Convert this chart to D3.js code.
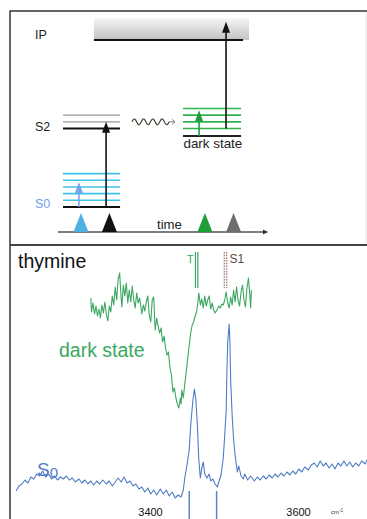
<!DOCTYPE html>
<html>
<head>
<meta charset="utf-8">
<script src="https://cdn.jsdelivr.net/npm/d3@7"></script>
<style>
  html, body { margin: 0; padding: 0; background: #fff; }
  svg { display: block; font-family: "Liberation Sans", Arial, sans-serif; }
</style>
</head>
<body>
<svg id="chart" width="367" height="519"></svg>
<script>
// ---- energy diagram (arbitrary energy units, time units) ----
const s0Base = 0;
const s0Vib = [4, 8, 12, 16, 20];
const s2Base = 47;
const s2Vib = [51, 55];
const darkBase = 42.5;
const darkVib = [47, 51, 55, 59];
const ipLevel = 100;
const ipTop = 113;
const ladderSpan = [0.24, 2.97];
const darkSpan = [5.98, 8.76];
const ipSpan = [1.72, 9.14];
const pulseTimes = [1.1, 2.46, 7.03, 8.4];
const pulseColors = ['#4fb0e2', '#111111', '#1e9e3a', '#6e6e6e'];
const transitionTimes = [1.0, 2.3, 6.75, 8.04];
const transitionFrom = [0, 0, 42.5, 47];
const transitionTo = [15, 51, 58, 111];
const transitionColors = ['#7ba3ec', '#111111', '#1e9e3a', '#111111'];
const wavySpan = [3.54, 5.6];
const wavyLevel = 51;

// ---- IR spectra (wavenumber cm-1, intensity a.u.) ----
const s0Spectrum = [
  [3219, 4.5], [3223, 7], [3227, 8], [3231, 10], [3235, 8.5], [3239, 11.5], [3243, 10.5], [3247, 13],
  [3251, 12], [3255, 14.5], [3259, 11.5], [3263, 13], [3267, 10.5], [3271, 12], [3275, 10], [3279, 11.5],
  [3283, 10.5], [3287, 12], [3291, 10], [3295, 11], [3299, 9], [3304, 10.5], [3308, 8.5], [3312, 10],
  [3316, 8], [3320, 9.5], [3324, 7.5], [3328, 9.5], [3332, 8], [3336, 10], [3341, 8], [3345, 9.5],
  [3349, 7], [3353, 9], [3357, 11], [3361, 9], [3365, 11.5], [3369, 8.5], [3373, 9.5], [3377, 7],
  [3381, 8], [3385, 5.5], [3389, 6.5], [3393, 4], [3397, 6], [3401, 3], [3405, 5], [3409, 2.5],
  [3414, 5.5], [3418, 3], [3422, 5], [3426, 2], [3430, 4], [3434, 1], [3438, 2.5], [3442, 1.5],
  [3445, 5], [3447, 11], [3450, 17.5], [3453, 25], [3455, 37.5], [3458, 50], [3460, 55.5], [3462, 50],
  [3464, 37.5], [3466, 20], [3468, 11], [3470, 16], [3472, 19], [3474, 13], [3477, 11], [3480, 13],
  [3482, 9.5], [3485, 10.5], [3488, 8], [3491, 6.5], [3493, 9], [3496, 12.5], [3499, 21], [3501, 32.5],
  [3503, 45], [3504, 65], [3505, 79], [3507, 88], [3508, 79], [3509, 60], [3511, 42.5], [3513, 30],
  [3515, 22.5], [3518, 14], [3520, 17], [3523, 12], [3526, 10.5], [3528, 13], [3532, 10], [3536, 12],
  [3541, 9.5], [3545, 11.5], [3549, 10], [3553, 12], [3557, 10.5], [3561, 12.5], [3565, 11], [3569, 13],
  [3573, 11.5], [3577, 13.5], [3581, 12], [3585, 14], [3589, 12.5], [3593, 14.5], [3597, 13], [3601, 15.5],
  [3605, 14], [3609, 16.5], [3614, 15], [3618, 17.5], [3622, 18.5], [3626, 16.5], [3630, 19.5], [3634, 17],
  [3638, 18.5], [3642, 16], [3646, 18], [3650, 15.5], [3654, 18.5], [3658, 17], [3662, 19.5], [3666, 17],
  [3670, 19], [3674, 16.5], [3678, 18.5], [3682, 17], [3686, 19.5], [3691, 18], [3693, 20]
];
const darkSpectrum = [
  [3320, 101], [3321, 94], [3323, 98.5], [3325, 93], [3327, 97], [3329, 92], [3331, 95.5], [3333, 91],
  [3335, 97.5], [3337, 93.5], [3339, 99], [3341, 93], [3343, 89.5], [3345, 97], [3347, 94], [3349, 102],
  [3351, 97.5], [3353, 106.5], [3355, 100], [3357, 110.5], [3359, 113.5], [3361, 101], [3362, 96.5], [3364, 107.5],
  [3366, 102], [3368, 108.5], [3370, 98.5], [3372, 105], [3374, 99], [3376, 107], [3378, 100], [3380, 96],
  [3382, 103.5], [3384, 98.5], [3386, 101], [3389, 93], [3391, 97.5], [3393, 94.5], [3395, 99], [3397, 102],
  [3399, 92.5], [3401, 89], [3403, 100], [3405, 101.5], [3407, 85], [3409, 91], [3411, 87], [3413, 83.5],
  [3415, 86], [3417, 79], [3419, 82], [3421, 76], [3423, 72.5], [3425, 74], [3427, 66], [3429, 62.5],
  [3431, 54], [3433, 56], [3435, 51], [3437, 48], [3439, 46], [3441, 51], [3442, 48], [3443, 55],
  [3445, 51], [3447, 58], [3449, 64], [3451, 71], [3453, 77.5], [3455, 83.5], [3457, 87.5], [3459, 89],
  [3461, 92], [3463, 94], [3465, 100], [3466, 103.5], [3468, 97.5], [3470, 100.5], [3472, 96], [3474, 102],
  [3476, 97], [3478, 100], [3480, 102], [3482, 95.5], [3484, 98.5], [3486, 95], [3488, 93.5], [3491, 95.5],
  [3493, 97], [3495, 96], [3497, 98], [3499, 97.5], [3501, 100], [3503, 104], [3505, 98.5], [3507, 96],
  [3509, 101.5], [3511, 97.5], [3513, 105], [3515, 99], [3517, 106.5], [3519, 100], [3521, 97], [3523, 104],
  [3525, 107.5], [3527, 100], [3529, 96.5], [3531, 106], [3533, 111], [3535, 102], [3536, 96], [3537, 105]
];
const sticks = [3453, 3490];
const stickTop = 4.5;
const tripletMark = 3463;
const s1Mark = 3502;
const markerRange = [124, 106];
const tickValues = [3400, 3600];

const svg = d3.select('#chart');
svg.append('rect').attr('width', 367).attr('height', 519).attr('fill', '#fff');

// ---------- top panel ----------
const tScale = d3.scaleLinear().domain([0, 10]).range([58, 267]);
const eScale = d3.scaleLinear().domain([0, 100]).range([207, 40]);

const defs = svg.append('defs');
const grad = defs.append('linearGradient')
  .attr('id', 'ipgrad').attr('x1', 0).attr('y1', 0).attr('x2', 0).attr('y2', 1);
grad.append('stop').attr('offset', '0%').attr('stop-color', '#f5f5f5');
grad.append('stop').attr('offset', '100%').attr('stop-color', '#c2c2c2');

function arrowHead(sel, x, yTip, color, w, h) {
  sel.append('path')
    .attr('d', `M${x},${yTip} L${x - w / 2},${yTip + h} L${x + w / 2},${yTip + h} Z`)
    .attr('fill', color);
}

const diagram = svg.append('g');

// IP band
diagram.append('rect')
  .attr('x', tScale(ipSpan[0])).attr('y', eScale(ipTop))
  .attr('width', tScale(ipSpan[1]) - tScale(ipSpan[0]))
  .attr('height', eScale(ipLevel) - eScale(ipTop))
  .attr('fill', 'url(#ipgrad)');
diagram.append('line')
  .attr('x1', tScale(ipSpan[0])).attr('x2', tScale(ipSpan[1]) - 6)
  .attr('y1', eScale(ipLevel)).attr('y2', eScale(ipLevel))
  .attr('stroke', '#111').attr('stroke-width', 1.8);

// S0 ladder
diagram.selectAll('.s0v').data(s0Vib).enter().append('line')
  .attr('x1', tScale(ladderSpan[0])).attr('x2', tScale(ladderSpan[1]))
  .attr('y1', d => eScale(d)).attr('y2', d => eScale(d))
  .attr('stroke', '#3cc3ea').attr('stroke-width', 1.6);
diagram.append('line')
  .attr('x1', tScale(ladderSpan[0])).attr('x2', tScale(ladderSpan[1]))
  .attr('y1', eScale(s0Base)).attr('y2', eScale(s0Base))
  .attr('stroke', '#111').attr('stroke-width', 2);

// S2 ladder
diagram.selectAll('.s2v').data(s2Vib).enter().append('line')
  .attr('x1', tScale(ladderSpan[0])).attr('x2', tScale(ladderSpan[1]))
  .attr('y1', d => eScale(d)).attr('y2', d => eScale(d))
  .attr('stroke', '#9a9a9a').attr('stroke-width', 1.3);
diagram.append('line')
  .attr('x1', tScale(ladderSpan[0])).attr('x2', tScale(ladderSpan[1]))
  .attr('y1', eScale(s2Base)).attr('y2', eScale(s2Base))
  .attr('stroke', '#111').attr('stroke-width', 2);

// dark state ladder
diagram.selectAll('.dv').data(darkVib).enter().append('line')
  .attr('x1', tScale(darkSpan[0])).attr('x2', tScale(darkSpan[1]))
  .attr('y1', d => eScale(d)).attr('y2', d => eScale(d))
  .attr('stroke', '#2fb34c').attr('stroke-width', 1.6);
diagram.append('line')
  .attr('x1', tScale(darkSpan[0])).attr('x2', tScale(darkSpan[1]))
  .attr('y1', eScale(darkBase)).attr('y2', eScale(darkBase))
  .attr('stroke', '#222').attr('stroke-width', 2);

// transitions
transitionTimes.forEach((t, i) => {
  const x = tScale(t);
  const yTip = eScale(transitionTo[i]);
  diagram.append('line')
    .attr('x1', x).attr('x2', x)
    .attr('y1', eScale(transitionFrom[i])).attr('y2', yTip + 6)
    .attr('stroke', transitionColors[i]).attr('stroke-width', 1.6);
  arrowHead(diagram, x, yTip, transitionColors[i], 8, 11);
});

// wavy relaxation
const wx0 = tScale(wavySpan[0]);
const wx1 = tScale(wavySpan[1]) - 6;
const wy = eScale(wavyLevel);
const wavePts = d3.range(0, 1.0001, 0.02).map(f => [wx0 + f * (wx1 - wx0), wy - 3 * Math.sin(f * Math.PI * 8)]);
diagram.append('path')
  .attr('d', d3.line().curve(d3.curveBasis)(wavePts))
  .attr('fill', 'none').attr('stroke', '#3a3a2a').attr('stroke-width', 1.1);
diagram.append('path')
  .attr('d', `M${wx1},${wy} L${tScale(wavySpan[1])},${wy} M${tScale(wavySpan[1]) - 3},${wy - 2.5} L${tScale(wavySpan[1])},${wy} L${tScale(wavySpan[1]) - 3},${wy + 2.5}`)
  .attr('fill', 'none').attr('stroke', '#777').attr('stroke-width', 0.9);

// time axis + pulses
const axisY = 232;
diagram.append('line')
  .attr('x1', tScale(0)).attr('x2', tScale(10))
  .attr('y1', axisY).attr('y2', axisY)
  .attr('stroke', '#555').attr('stroke-width', 1.5);
diagram.append('path')
  .attr('d', `M${tScale(10) + 1},${axisY} L${tScale(10) - 4},${axisY - 2.5} L${tScale(10) - 4},${axisY + 2.5} Z`)
  .attr('fill', '#333');
diagram.selectAll('.pulse').data(pulseTimes).enter().append('path')
  .attr('d', d => `M${tScale(d)},${axisY - 19} L${tScale(d) - 7.5},${axisY} L${tScale(d) + 7.5},${axisY} Z`)
  .attr('fill', (d, i) => pulseColors[i]);

// labels
const lbl = (x, y, txt, size, color) => diagram.append('text')
  .attr('x', x).attr('y', y).text(txt)
  .attr('font-size', size).attr('fill', color);
lbl(35, 39, 'IP', 12.5, '#222');
lbl(35, 131, 'S2', 12.5, '#222');
lbl(35, 208, 'S0', 12.5, '#6fa0e8');
lbl(tScale(darkSpan[0]) + 0.5, 148, 'dark state', 13.4, '#222');
lbl(157, 229, 'time', 13.2, '#222');

// panel frames
svg.append('line').attr('x1', 10).attr('x2', 367).attr('y1', 11).attr('y2', 11)
  .attr('stroke', '#333').attr('stroke-width', 1.5);
svg.append('line').attr('x1', 366).attr('x2', 366).attr('y1', 12).attr('y2', 244)
  .attr('stroke', '#e2e2e2').attr('stroke-width', 1);
svg.append('line').attr('x1', 10).attr('x2', 10).attr('y1', 10.5).attr('y2', 519)
  .attr('stroke', '#333').attr('stroke-width', 1.5);
svg.append('line').attr('x1', 10).attr('x2', 367).attr('y1', 245).attr('y2', 245)
  .attr('stroke', '#444').attr('stroke-width', 2);

// ---------- bottom panel: spectra ----------
const x = d3.scaleLinear().domain([3400, 3600]).range([150, 298]);
const y = d3.scaleLinear().domain([0, 125]).range([500, 250]);
const line = d3.line().x(d => x(d[0])).y(d => y(d[1]));

const spec = svg.append('g');

spec.selectAll('.stick').data(sticks).enter().append('line')
  .attr('x1', d => x(d)).attr('x2', d => x(d))
  .attr('y1', y(stickTop)).attr('y2', 519)
  .attr('stroke', '#5b86c8').attr('stroke-width', 1.5);

spec.append('path').datum(s0Spectrum)
  .attr('d', line).attr('fill', 'none')
  .attr('stroke', '#4f7dc4').attr('stroke-width', 1.1).attr('stroke-linejoin', 'round');
spec.append('path').datum(darkSpectrum)
  .attr('d', line).attr('fill', 'none')
  .attr('stroke', '#3aa860').attr('stroke-width', 1.1).attr('stroke-linejoin', 'round');

// triplet and S1 markers
[-1.2, 1.2].forEach(dx => {
  spec.append('line')
    .attr('x1', x(tripletMark) + dx).attr('x2', x(tripletMark) + dx)
    .attr('y1', y(markerRange[0])).attr('y2', y(markerRange[1]))
    .attr('stroke', '#3aa860').attr('stroke-width', 1.2);
  spec.append('line')
    .attr('x1', x(s1Mark) + dx).attr('x2', x(s1Mark) + dx)
    .attr('y1', y(markerRange[0])).attr('y2', y(markerRange[1]))
    .attr('stroke', '#9a6f68').attr('stroke-width', 1.2).attr('stroke-dasharray', '1.5,1.2');
});
spec.append('text').attr('x', x(tripletMark) - 3).attr('y', 263)
  .attr('text-anchor', 'end').attr('font-size', 11).attr('fill', '#3aa860').text('T');
spec.append('text').attr('x', x(s1Mark) + 4).attr('y', 263)
  .attr('font-size', 12).attr('fill', '#5a4a48').text('S1');

// axis labels
const xAxis = d3.axisBottom(x).tickValues(tickValues).tickSize(0).tickFormat(d3.format('d'));
const gx = spec.append('g').attr('transform', 'translate(0,505)').call(xAxis);
gx.select('.domain').remove();
gx.selectAll('text').attr('font-size', 11).attr('fill', '#111')
  .attr('font-family', '"Liberation Sans", Arial, sans-serif');
spec.append('text').attr('x', 331).attr('y', 514).attr('font-size', 6).attr('fill', '#333')
  .text('cm').append('tspan').attr('dy', -2).attr('font-size', 4.5).text('-1');

// text labels
spec.append('text').attr('x', 18).attr('y', 268).attr('font-size', 19.5).attr('fill', '#111').text('thymine');
spec.append('text').attr('x', 59).attr('y', 357).attr('font-size', 19.5).attr('fill', '#3aa860').text('dark state');
const s0t = spec.append('text').attr('x', 37).attr('y', 476).attr('fill', '#4f7dc4');
s0t.append('tspan').attr('font-size', 19).text('S');
s0t.append('tspan').attr('font-size', 15).attr('dy', 2).text('0');
</script>
</body>
</html>
